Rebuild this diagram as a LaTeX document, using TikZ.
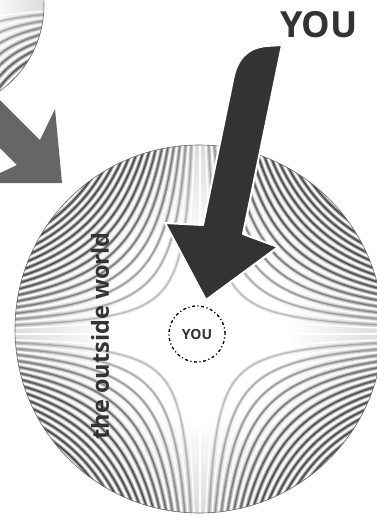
\documentclass[tikz,border=0pt]{standalone}
\usepackage{fontspec}
\setmainfont{Open Sans}
\definecolor{arrowdark}{HTML}{333333}
\definecolor{arrowgray}{HTML}{666666}
\definecolor{rimgray}{HTML}{6A6A6A}
\pgfdeclareradialshading{fieldshade}{\pgfpoint{0bp}{0bp}}{color(0bp)=(white); color(12bp)=(white); color(50bp)=(black!40)}
\newcommand\hypfield[5]{%
  \foreach \k in {1,...,#4}{%
    \pgfmathsetmacro\sa{#3*sqrt(\k)}%
    \pgfmathsetmacro\sb{#3*sqrt(\k+0.5)}%
    \pgfmathsetmacro\ua{ln((#5)/\sa)}%
    \pgfmathsetmacro\ub{ln((#5)/\sb)}%
    \pgfmathsetmacro\op{min(0.55,0.12+0.05*\k)}%
    \pgfmathsetmacro\opw{min(0.3,0.08+0.03*\k)}%
    \foreach \sx/\sy in {1/1,1/-1,-1/1,-1/-1}{%
      \draw[black,opacity=\opw,line width=3.4pt] plot[smooth,domain=-\ub:\ub,samples=40] ({#1+(\sx)*\sb*exp(\x)},{#2+(\sy)*\sb*exp(-\x)});
      \draw[black,opacity=\op,line width=1.3pt] plot[smooth,domain=-\ub:\ub,samples=40] ({#1+(\sx)*\sb*exp(\x)},{#2+(\sy)*\sb*exp(-\x)});
      \draw[white,line width=1.4pt] plot[smooth,domain=-\ua:\ua,samples=40] ({#1+(\sx)*\sa*exp(\x)},{#2+(\sy)*\sa*exp(-\x)});
    }%
  }%
}
\tikzset{
  fieldrim/.style={draw=rimgray,line width=0.6pt},
  bigtext/.style={font=\bfseries\fontsize{36}{40}\selectfont,text=arrowdark,inner sep=0pt},
  worldtext/.style={font=\bfseries\fontsize{23.5}{26}\selectfont,text=arrowdark,inner sep=0pt,rotate=90},
  youring/.style={circle,fill=white,draw=black,line width=1.3pt,dash pattern=on 3pt off 2.5pt on 1.2pt off 2.5pt,minimum size=56pt,inner sep=0pt,font=\bfseries\fontsize{14}{16}\selectfont,text=arrowdark}
}
\begin{document}
\begin{tikzpicture}[x=1pt,y=-1pt]
\useasboundingbox (0,0) rectangle (377,515);
\fill[white] (0,0) rectangle (377,515);
% top-left partial field
\begin{scope}
  \clip (-62,5) circle (106);
  \shade[shading=fieldshade] (-62,5) circle (106);
  \hypfield{-62}{5}{26}{10}{130}
\end{scope}
\draw[fieldrim] (-62,5) circle (106);
% gray arrow
\fill[arrowgray] (-40,60) -- (40,140) -- (55,109) -- (62,183) -- (-21,183) -- (17,165) -- (-40,108) -- cycle;
% main field
\begin{scope}
  \clip (199,329) circle (184);
  \shade[shading=fieldshade] (199,329) circle (184);
  \hypfield{200}{334}{33}{16}{200}
  \draw[white,line width=2pt] (0,334) -- (400,334);
  \draw[white,line width=1.5pt] (200,0) -- (200,520);
\end{scope}
\draw[fieldrim] (199,329) circle (184);
% black arrow
\draw[fill=arrowdark,draw=white,line width=2pt,line join=round]
  (282,45) -- (243,234) -- (278,247) -- (206,300) -- (165,223) -- (203,225) -- (233,80)
  .. controls (237,58) and (248,48) .. (266,46) -- cycle;
\node[youring] (you) at (197,334) {YOU};
\node[bigtext] (title) at (319,25) {YOU};
\node[worldtext] (world) at (100,336) {the outside world};
\end{tikzpicture}
\end{document}
